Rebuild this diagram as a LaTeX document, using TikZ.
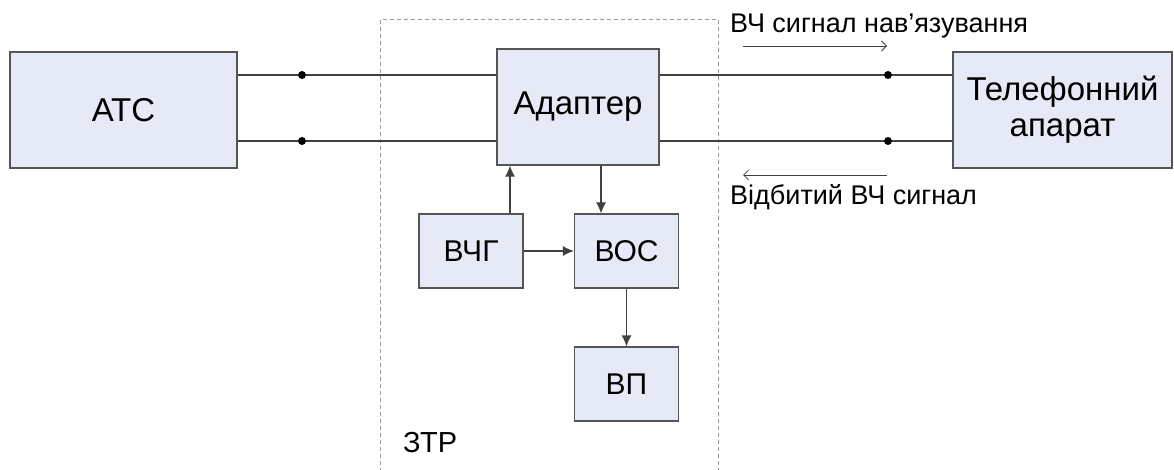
\documentclass[tikz,border=0pt]{standalone}
\usepackage{fontspec}
\setmainfont{Liberation Sans}
\usetikzlibrary{arrows.meta}
\definecolor{boxfill}{HTML}{E6EAF6}
\definecolor{boxline}{HTML}{555555}
\definecolor{wire}{HTML}{404040}
\definecolor{dashcol}{HTML}{9A9A9A}
\begin{document}
\begin{tikzpicture}[x=1pt,y=-1pt,
  blk/.style={draw=boxline, line width=1.2pt, fill=boxfill, inner sep=0pt, align=center, font=\fontsize{33}{36}\selectfont},
  sblk/.style={blk, font=\fontsize{30}{34}\selectfont, minimum width=104pt, minimum height=74pt},
  wireline/.style={draw=wire, line width=1.2pt},
  flow/.style={wireline, -{Latex[length=11pt,width=10pt]}},
  sig/.style={draw=wire, line width=0.8pt, -{Straight Barb[length=5pt,width=10pt]}},
  junction/.style={circle, fill=black, inner sep=0pt, minimum size=8pt},
  lbl/.style={font=\fontsize{27}{30}\selectfont, anchor=base west, inner sep=0pt},
  frame/.style={draw=dashcol, line width=0.9pt, dash pattern=on 4pt off 3pt}]
\useasboundingbox (0,0) rectangle (1174,470);

% dashed frame of the ZTR
\draw[frame] (380,472) -- (380,19.5) -- (718,19.5) -- (718,472);

% main blocks
\node[blk, minimum width=227pt, minimum height=116pt] (atc) at (123.5,110) {АТС};
\node[blk, minimum width=162pt, minimum height=116pt] (adapter) at (578,107) {Адаптер};
\node[blk, minimum width=219pt, minimum height=116pt] (phone) at (1062.5,110) {Телефонний\\апарат};

% inner blocks
\node[sblk] (vchg) at (471,251) {ВЧГ};
\node[sblk] (vos) at (626.5,251) {ВОС};
\node[sblk] (vp) at (626.5,384) {ВП};

% junctions
\node[junction] (j1) at (302,75) {};
\node[junction] (j2) at (302,141) {};
\node[junction] (j3) at (888,75) {};
\node[junction] (j4) at (888,141) {};

% wires
\draw[wireline] (atc.east |- j1) -- (j1) -- (adapter.west |- j1);
\draw[wireline] (atc.east |- j2) -- (j2) -- (adapter.west |- j2);
\draw[wireline] (adapter.east |- j3) -- (j3) -- (phone.west |- j3);
\draw[wireline] (adapter.east |- j4) -- (j4) -- (phone.west |- j4);

% internal flows
\coordinate (up) at ([xshift=39pt]vchg.north);
\draw[flow] (up) -- (up |- adapter.south);
\coordinate (dn) at ([xshift=23pt]adapter.south);
\draw[flow] (dn) -- (dn |- vos.north);
\draw[flow] (vchg.east) -- (vos.west);
\draw[flow] (vos.south) -- (vp.north);

% signal arrows
\coordinate (s1a) at (743,46);
\coordinate (s1b) at (887,46);
\draw[sig] (s1a) -- (s1b);
\coordinate (s2a) at (887,175);
\coordinate (s2b) at (743,175);
\draw[sig] (s2a) -- (s2b);

% labels
\node[lbl] (t1) at (730,33) {ВЧ сигнал нав’язування};
\node[lbl] (t2) at (730,205) {Відбитий ВЧ сигнал};
\node[lbl, font=\fontsize{29}{32}\selectfont] (ztr) at (403,452) {ЗТР};
\end{tikzpicture}
\end{document}
